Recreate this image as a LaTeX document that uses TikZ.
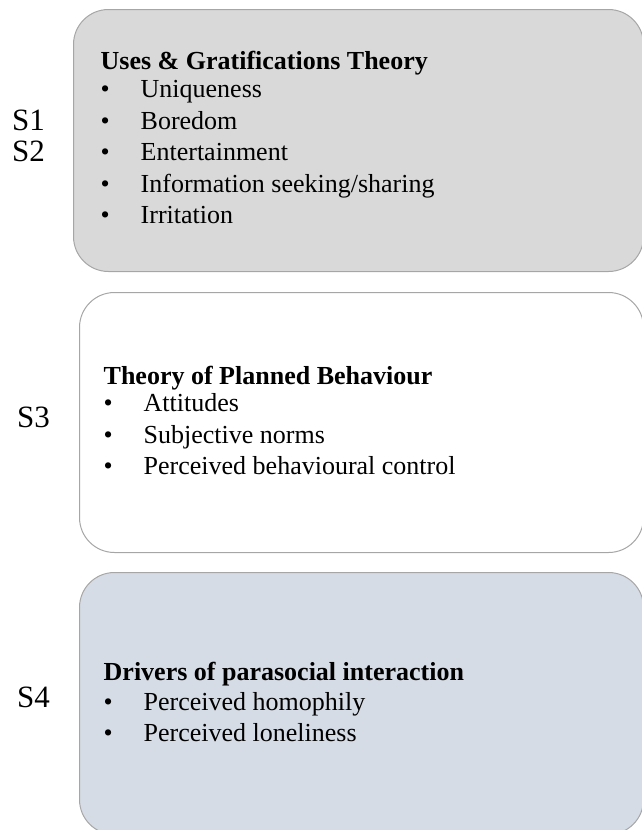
\documentclass[tikz,border=0pt]{standalone}
\usepackage{fontspec}
\setmainfont{Liberation Serif}
\definecolor{ugtgray}{HTML}{D9D9D9}
\definecolor{psiblue}{HTML}{D6DCE5}
\definecolor{boxline}{HTML}{A6A6A6}
\newcommand{\bulitem}[1]{\makebox[40pt][l]{\textbullet}#1}
\tikzset{
  theorybox/.style={draw=boxline, line width=1pt, rounded corners=35pt, anchor=north west, inner sep=0pt},
  listtext/.style={anchor=base west, inner sep=0pt, align=left, font=\fontsize{26}{31.5}\selectfont},
  stagelabel/.style={anchor=base west, inner sep=0pt, font=\fontsize{31}{31}\selectfont}
}
\begin{document}
\begin{tikzpicture}[x=1pt,y=-1pt]
\useasboundingbox (0,0) rectangle (641,830);
% theory boxes
\node[theorybox, fill=ugtgray, minimum width=570pt, minimum height=262pt] (ugtbox) at (73,9) {};
\node[theorybox, fill=white, minimum width=564pt, minimum height=260pt] (tpbbox) at (79,292) {};
\node[theorybox, fill=psiblue, minimum width=564pt, minimum height=262pt] (psibox) at (79,572) {};
% stage labels
\node[stagelabel] (s1) at (12,130) {S1};
\node[stagelabel] (s2) at (12,161) {S2};
\node[stagelabel] (s3) at (17,427) {S3};
\node[stagelabel] (s4) at (17,707) {S4};
% box contents (placed at the baseline of the last line)
\node[listtext] (ugttext) at (100.5,223.5) {\textbf{Uses \& Gratifications Theory}\\[-3.5pt]
  \bulitem{Uniqueness}\\
  \bulitem{Boredom}\\
  \bulitem{Entertainment}\\
  \bulitem{Information seeking/sharing}\\
  \bulitem{Irritation}};
\node[listtext] (tpbtext) at (103.5,474.5) {\textbf{Theory of Planned Behaviour}\\[-4pt]
  \bulitem{Attitudes}\\
  \bulitem{Subjective norms}\\
  \bulitem{Perceived behavioural control}};
\node[listtext] (psitext) at (103.5,741.5) {\textbf{Drivers of parasocial interaction}\\[-2pt]
  \bulitem{Perceived homophily}\\
  \bulitem{Perceived loneliness}};
\end{tikzpicture}
\end{document}
